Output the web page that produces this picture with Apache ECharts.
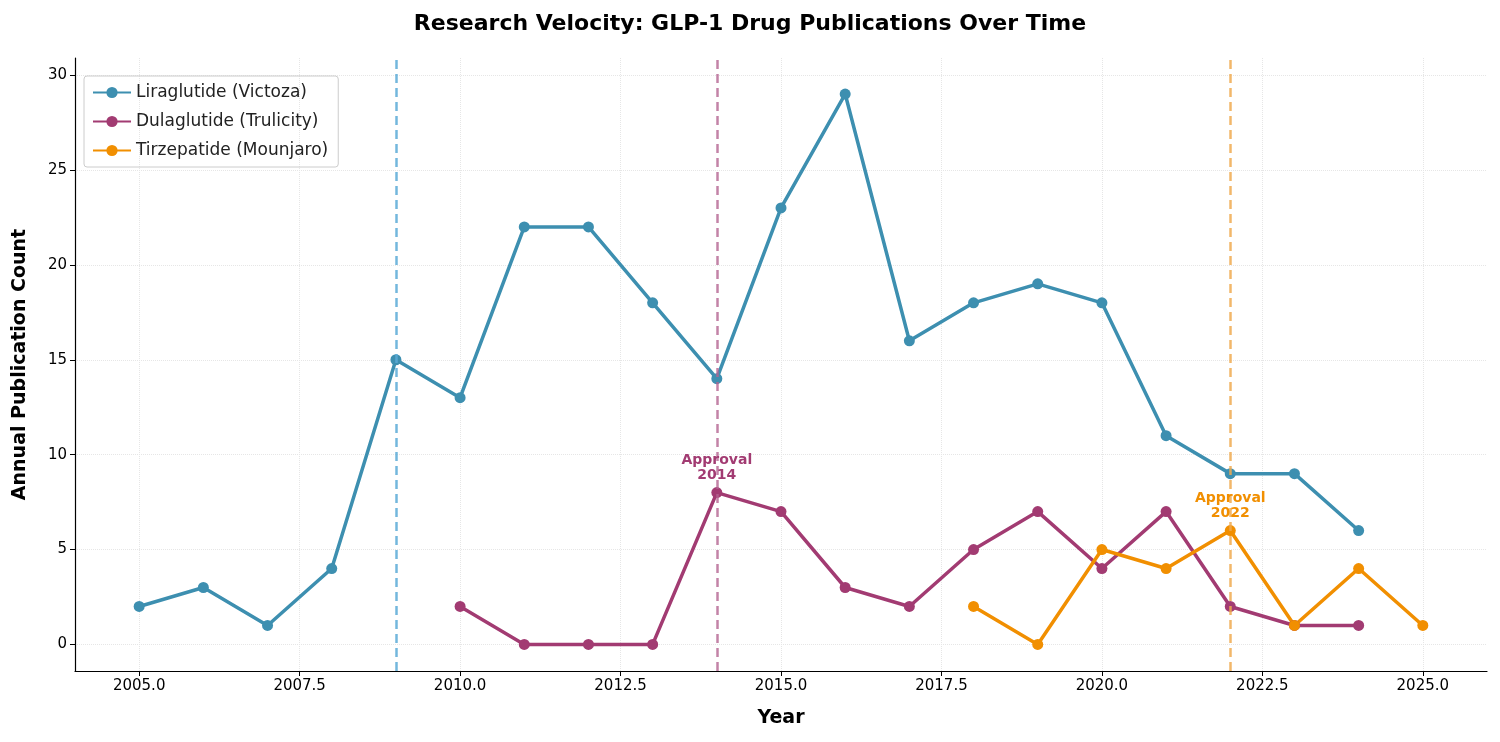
<!DOCTYPE html>
<html>
<head>
<meta charset="utf-8">
<script src="https://cdn.jsdelivr.net/npm/echarts@6/dist/echarts.min.js"></script>
<style>html,body{margin:0;background:#fff}#chart{width:1500px;height:742px}</style>
</head>
<body>
<div id="chart"></div>
<script>
// 数据
var liraYears = [2005, 2006, 2007, 2008, 2009, 2010, 2011, 2012, 2013, 2014, 2015, 2016, 2017, 2018, 2019, 2020, 2021, 2022, 2023, 2024];
var liraCounts = [2, 3, 1, 4, 15, 13, 22, 22, 18, 14, 23, 29, 16, 18, 19, 18, 11, 9, 9, 6];
var dulaYears = [2010, 2011, 2012, 2013, 2014, 2015, 2016, 2017, 2018, 2019, 2020, 2021, 2022, 2023, 2024];
var dulaCounts = [2, 0, 0, 0, 8, 7, 3, 2, 5, 7, 4, 7, 2, 1, 1];
var tirzYears = [2018, 2019, 2020, 2021, 2022, 2023, 2024, 2025];
var tirzCounts = [2, 0, 5, 4, 6, 1, 4, 1];
var xTicks = [2005, 2007.5, 2010, 2012.5, 2015, 2017.5, 2020, 2022.5, 2025];
var yTicks = [0, 5, 10, 15, 20, 25, 30];

var zip = function (xs, ys) {
  return xs.map(function (x, i) { return [x, ys[i]]; });
};

var makeSeries = function (name, color, xs, ys, approvalYear, labelY, lineColor) {
  return {
    name: name,
    type: 'line',
    data: zip(xs, ys),
    symbol: 'circle',
    symbolSize: 11,
    lineStyle: {color: color, width: 3.5},
    itemStyle: {color: color},
    z: 3,
    markLine: {
      silent: true,
      symbol: 'none',
      label: {show: false},
      lineStyle: {color: lineColor, type: [9, 5], width: 2.5},
      data: [{xAxis: approvalYear}]
    },
    markPoint: {
      silent: true,
      symbol: 'circle',
      symbolSize: 1,
      itemStyle: {color: 'rgba(0,0,0,0)'},
      data: [{coord: [approvalYear, labelY], name: 'Approval\n' + approvalYear}],
      label: {
        show: true,
        position: 'inside',
        color: color,
        fontWeight: 'bold',
        fontSize: 14,
        lineHeight: 15,
        fontFamily: 'DejaVu Sans',
        formatter: '{b}'
      }
    }
  };
};

var option = {
  backgroundColor: '#fff',
  animation: false,
  textStyle: {fontFamily: 'DejaVu Sans'},
  title: {
    text: 'Research Velocity: GLP-1 Drug Publications Over Time',
    left: 'center',
    top: 8,
    textStyle: {fontSize: 22, fontWeight: 'bold', color: '#000', fontFamily: 'DejaVu Sans'}
  },
  legend: {
    orient: 'vertical',
    left: 84,
    top: 76,
    padding: [8, 10, 8, 8],
    itemGap: 12,
    itemWidth: 38,
    itemHeight: 14,
    borderColor: '#ccc',
    borderWidth: 1,
    borderRadius: 3,
    textStyle: {fontSize: 17, color: '#222'},
    data: ['Liraglutide (Victoza)', 'Dulaglutide (Trulicity)', 'Tirzepatide (Mounjaro)']
  },
  grid: {left: 75, right: 13, top: 58, bottom: 71},
  xAxis: {
    type: 'value',
    min: 2004,
    max: 2026,
    name: 'Year',
    nameLocation: 'middle',
    nameGap: 38,
    nameTextStyle: {fontSize: 19, fontWeight: 'bold', color: '#000'},
    axisLine: {onZero: false, lineStyle: {color: '#000', width: 1.2}},
    axisTick: {show: true, customValues: xTicks, length: 5, lineStyle: {color: '#000'}},
    axisLabel: {customValues: xTicks, fontSize: 15, color: '#000', formatter: function (v) { return v.toFixed(1); }},
    splitLine: {show: true, lineStyle: {color: '#e6e6e6', type: 'dotted'}}
  },
  yAxis: {
    type: 'value',
    min: -1.4,
    max: 30.9,
    name: 'Annual Publication Count',
    nameLocation: 'middle',
    nameGap: 45,
    nameTextStyle: {fontSize: 19, fontWeight: 'bold', color: '#000'},
    axisLine: {show: true, onZero: false, lineStyle: {color: '#000', width: 1.2}},
    axisTick: {show: true, customValues: yTicks, length: 5, lineStyle: {color: '#000'}},
    axisLabel: {customValues: yTicks, fontSize: 15, color: '#000'},
    splitLine: {show: true, lineStyle: {color: '#e6e6e6', type: 'dotted'}}
  },
  series: [
    makeSeries('Liraglutide (Victoza)', '#3d8fb0', liraYears, liraCounts, 2009, 31.8, 'rgba(90,170,215,0.85)'),
    makeSeries('Dulaglutide (Trulicity)', '#a23b72', dulaYears, dulaCounts, 2014, 9.3, 'rgba(180,100,145,0.8)'),
    makeSeries('Tirzepatide (Mounjaro)', '#f18f01', tirzYears, tirzCounts, 2022, 7.3, 'rgba(240,170,80,0.85)')
  ]
};

var myChart = echarts.init(document.getElementById('chart'));
myChart.setOption(option);
</script>
</body>
</html>
